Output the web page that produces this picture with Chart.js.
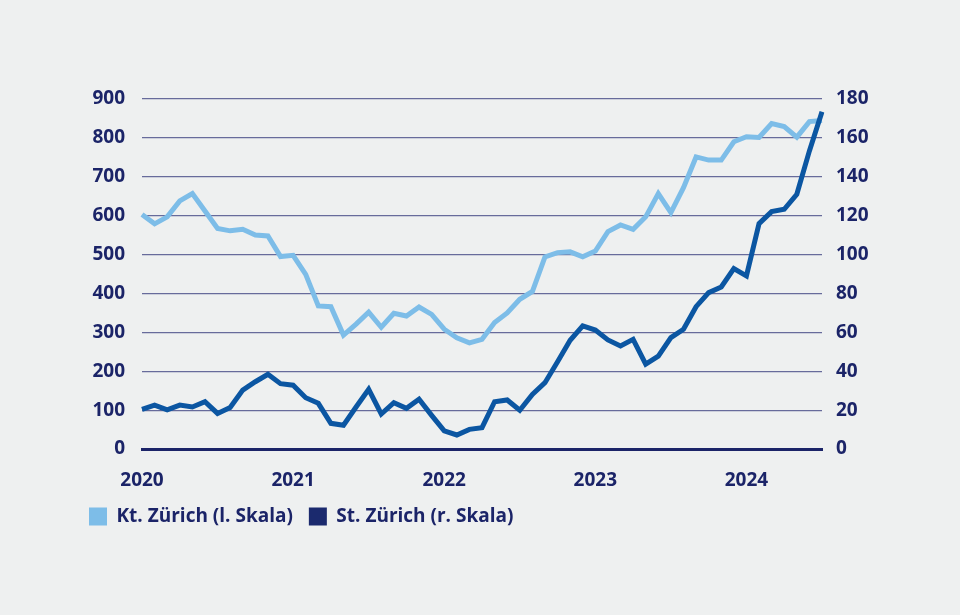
<!DOCTYPE html>
<html>
<head>
<meta charset="utf-8">
<script src="https://cdn.jsdelivr.net/npm/chart.js@4.4.1/dist/chart.umd.min.js"></script>
<style>
  html, body { margin: 0; padding: 0; background: #eef0f0; }
  #wrap { width: 960px; height: 615px; position: relative; }
</style>
</head>
<body>
<div id="wrap"><canvas id="c" width="960" height="615"></canvas></div>
<script>
// Monthly, Jan 2020 – Jul 2024
const years = [2020, 2021, 2022, 2023, 2024];
const monthsPerYear = 12;
const lastYearMonths = 7;
const categories = [];
years.forEach((y, yi) => {
  const n = yi === years.length - 1 ? lastYearMonths : monthsPerYear;
  for (let m = 1; m <= n; m++) categories.push(y + '-' + String(m).padStart(2, '0'));
});
const xTickLabels = ['2020', '2021', '2022', '2023', '2024'];

const seriesNames = ['Kt. Zürich (l. Skala)', 'St. Zürich (r. Skala)'];

// Kanton Zürich (left scale)
const ktZuerich = [
  603, 579, 597, 638, 657, 612, 567, 561, 565, 550, 548, 495,
  498, 449, 368, 366, 293, 321, 352, 313, 349, 342, 365, 346,
  308, 286, 273, 282, 325, 350, 385, 405, 494, 505, 507, 494,
  509, 559, 576, 565, 597, 657, 608, 672, 751, 743, 743, 790,
  803, 801, 837, 829, 802, 842, 845
];
// Stadt Zürich (right scale)
const stZuerich = [
  20.4, 22.6, 20.1, 22.6, 21.6, 24.3, 18.3, 21.3, 30.3, 34.6, 38.4, 33.6,
  32.8, 26.4, 23.5, 13.2, 12.2, 21.6, 30.7, 18.0, 23.8, 20.9, 25.6, 17.3,
  9.3, 7.2, 10.1, 11.0, 24.3, 25.2, 19.9, 28.1, 34.1, 44.9, 55.9, 63.3,
  61.2, 56.1, 53.0, 56.4, 43.6, 47.8, 57.3, 61.6, 73.2, 80.4, 83.3, 92.8,
  89.0, 115.9, 122.1, 123.3, 131.0, 153.3, 173.4
];

const leftTicks = [0, 100, 200, 300, 400, 500, 600, 700, 800, 900];
const rightTicks = [0, 20, 40, 60, 80, 100, 120, 140, 160, 180];

const navy = '#1b2468';
const lightBlue = '#7dbde8';
const darkLine = '#0b56a2';
const legendDark = '#1b2a6e';
const font = '"Open Sans", "Liberation Sans", sans-serif';

new Chart(document.getElementById('c'), {
  type: 'line',
  data: {
    labels: categories,
    datasets: [
      {
        label: seriesNames[0], data: ktZuerich, yAxisID: 'yL',
        borderColor: lightBlue, backgroundColor: lightBlue,
        borderWidth: 5, pointRadius: 0, tension: 0, order: 1,
        borderJoinStyle: 'miter'
      },
      {
        label: seriesNames[1], data: stZuerich, yAxisID: 'yR',
        borderColor: darkLine, backgroundColor: legendDark,
        borderWidth: 5, pointRadius: 0, tension: 0, order: 0,
        borderJoinStyle: 'miter'
      }
    ]
  },
  options: {
    responsive: false,
    animation: false,
    devicePixelRatio: 1,
    layout: { padding: { left: 73, right: 56, top: 99, bottom: 79 } },
    plugins: {
      tooltip: { enabled: false },
      legend: {
        position: 'bottom',
        align: 'start',
        labels: {
          boxWidth: 18, boxHeight: 18, padding: 16,
          color: navy,
          font: { family: font, size: 19, weight: 'bold' },
          generateLabels: () => [
            { text: seriesNames[0], fillStyle: lightBlue, strokeStyle: lightBlue, lineWidth: 0, fontColor: navy, datasetIndex: 0 },
            { text: seriesNames[1], fillStyle: legendDark, strokeStyle: legendDark, lineWidth: 0, fontColor: navy, datasetIndex: 1 }
          ]
        }
      }
    },
    scales: {
      x: {
        type: 'category',
        offset: false,
        grid: { display: false, drawTicks: false },
        border: { display: true, color: navy, width: 3 },
        afterFit: s => { s.height = 42; },
        ticks: {
          autoSkip: false, maxRotation: 0, padding: 20,
          color: navy, font: { family: font, size: 19, weight: 'bold' },
          callback: (v, i) => (i % 12 === 0 ? xTickLabels[i / 12] : '')
        }
      },
      yL: {
        type: 'linear', position: 'left', min: 0, max: 900,
        afterBuildTicks: s => { s.ticks = leftTicks.map(v => ({ value: v })); },
        afterFit: s => { s.width = 69; },
        grid: { color: ctx => (ctx.tick && ctx.tick.value === 0 ? 'rgba(0,0,0,0)' : '#676b9b'), lineWidth: 1.2, drawTicks: false },
        border: { display: false },
        ticks: { padding: 17, color: navy, font: { family: font, size: 19, weight: 'bold' } }
      },
      yR: {
        type: 'linear', position: 'right', min: 0, max: 180,
        afterBuildTicks: s => { s.ticks = rightTicks.map(v => ({ value: v })); },
        afterFit: s => { s.width = 82; },
        grid: { display: false, drawTicks: false },
        border: { display: false },
        ticks: { padding: 14, color: navy, font: { family: font, size: 19, weight: 'bold' } }
      }
    }
  }
});
</script>
</body>
</html>
